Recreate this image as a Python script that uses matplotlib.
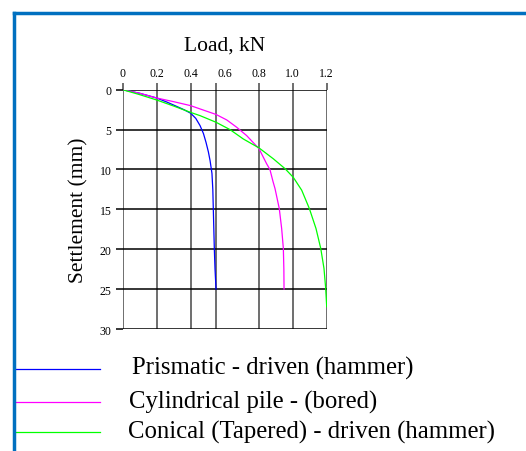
import numpy as np
import matplotlib.pyplot as plt
from matplotlib.lines import Line2D

plt.rcParams['font.family'] = 'Liberation Serif'

# load (kN) vs settlement (mm)
prism_load = [0, 0.1, 0.2, 0.26, 0.318, 0.36, 0.4, 0.43, 0.455, 0.475, 0.49,
              0.504, 0.514, 0.525, 0.53, 0.533, 0.536, 0.539, 0.543, 0.549]
prism_settle = [0, 0.45, 1.04, 1.55, 2.1, 2.5, 2.95, 3.6, 4.5, 5.5, 6.6,
                7.8, 8.9, 10.5, 12.5, 15, 17.5, 20, 22.5, 25]

cyl_load = [0, 0.1, 0.2, 0.3, 0.4, 0.455, 0.549, 0.612, 0.67, 0.729, 0.802,
            0.847, 0.866, 0.884, 0.896, 0.921, 0.935, 0.945, 0.948, 0.949]
cyl_settle = [0, 0.45, 1.04, 1.5, 2.0, 2.41, 3.1, 3.79, 4.7, 5.75, 7.4,
              9.3, 10.0, 11.5, 12.4, 14.9, 17.4, 19.9, 22.5, 25]

con_load = [0, 0.1, 0.2, 0.3, 0.4, 0.455, 0.549, 0.631, 0.709, 0.802, 0.886,
            0.955, 1.004, 1.053, 1.098, 1.137, 1.165, 1.184, 1.194, 1.2]
con_settle = [0, 0.62, 1.29, 2.05, 2.85, 3.25, 4.08, 5.0, 6.17, 7.3, 8.66,
              9.9, 11.0, 12.6, 14.9, 17.4, 19.9, 22.4, 24.9, 27.2]

grid_x = [0, 0.2, 0.4, 0.55, 0.8, 1.0, 1.2]
label_x = [0, 0.2, 0.4, 0.6, 0.8, 1.0, 1.2]
label_txt = ['0', '0.2', '0.4', '0.6', '0.8', '1.0', '1.2']
grid_y = [0, 5, 10, 15, 20, 25, 30]

series = [
    ('Prismatic - driven (hammer)', prism_load, prism_settle, '#0000ff'),
    ('Cylindrical pile - (bored)', cyl_load, cyl_settle, '#ff00ff'),
    ('Conical (Tapered) - driven (hammer)', con_load, con_settle, '#00ff00'),
]

fig = plt.figure(figsize=(5.26, 4.52), dpi=100)
ax = fig.add_axes([0.2333, 0.2699, 0.3878, 0.5294])
ax.set_xlim(0, 1.2)
ax.set_ylim(30, 0)

for x in grid_x:
    ax.axvline(x, color='#555555', lw=1.2, zorder=1)
for y in grid_y:
    ax.axhline(y, color='black', lw=1.1, zorder=1)

for name, xs, ys, c in series:
    ax.plot(xs, ys, color=c, lw=0.9, zorder=3)

for s in ax.spines.values():
    s.set_visible(False)

ax.xaxis.tick_top()
ax.xaxis.remove_overlapping_locs = False
ax.set_xticks(grid_x)
ax.set_xticklabels([])
ax.set_xticks(label_x, minor=True)
ax.set_xticklabels(label_txt, minor=True, fontsize=8.5)
ax.tick_params(axis='x', which='major', length=5, width=1.2, color='#555555')
ax.tick_params(axis='x', which='minor', length=0, pad=8)
ax.set_yticks(grid_y)
ax.set_yticklabels([str(v) for v in grid_y], fontsize=8.5)
ax.tick_params(axis='y', length=5, width=1.1, color='black', pad=3)

ax.set_xlabel('Load, kN', fontsize=15.5, labelpad=12)
ax.xaxis.set_label_position('top')
ax.set_ylabel('Settlement (mm)', fontsize=15.5, labelpad=8)

# legend drawn below the plot
leg_y = [370, 403, 433]
txt_y = [368, 402, 432]
txt_x = [132, 129, 128]
for (name, xs, ys, c), yp, ty, tx in zip(series, leg_y, txt_y, txt_x):
    yf = 1 - yp / 452
    fig.add_artist(Line2D([15 / 526, 100 / 526], [yf, yf], color=c, lw=0.9))
    fig.text(tx / 526, 1 - ty / 452, name, fontsize=17.8, va='center', ha='left')

# blue frame on top and left
fig.add_artist(Line2D([14 / 526, 1], [1 - 14 / 452, 1 - 14 / 452], color='#0070c0', lw=2.5))
fig.add_artist(Line2D([14 / 526, 14 / 526], [0, 1 - 14 / 452], color='#0070c0', lw=2.5))

fig.savefig('out.png', dpi=100)
